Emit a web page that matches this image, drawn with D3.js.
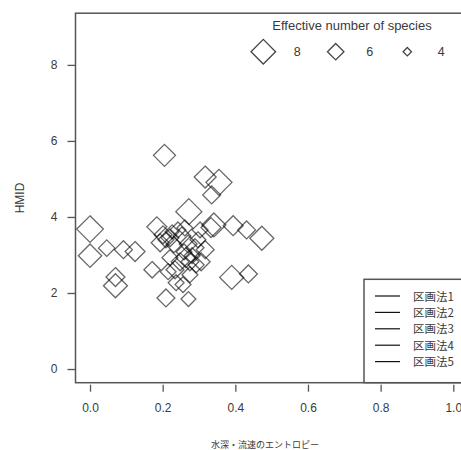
<!DOCTYPE html>
<html>
<head>
<meta charset="utf-8">
<script src="https://cdn.jsdelivr.net/npm/d3@7"></script>
<style>
  body { margin: 0; background: #fff; }
  svg { display: block; }
</style>
</head>
<body>
<div id="chart"></div>
<script>
// entropy of depth/velocity (x), HMID (y), effective number of species (size)
const entropy = [0.00, 0.00, 0.046, 0.092, 0.124, 0.070, 0.070, 0.171, 0.209, 0.205,
  0.317, 0.355, 0.335, 0.341, 0.333, 0.394, 0.431, 0.473, 0.390, 0.436,
  0.271, 0.272, 0.184, 0.201, 0.209, 0.220, 0.231, 0.226, 0.193, 0.242,
  0.253, 0.261, 0.270, 0.259, 0.264, 0.275, 0.281, 0.289, 0.297, 0.292,
  0.248, 0.220, 0.303, 0.317, 0.234, 0.275, 0.256, 0.237, 0.306, 0.215];
const hmid = [3.68, 2.98, 3.18, 3.14, 3.09, 2.42, 2.19, 2.61, 1.87, 5.62,
  5.05, 4.91, 4.58, 3.79, 3.72, 3.77, 3.66, 3.44, 2.41, 2.50,
  1.84, 4.14, 3.74, 3.53, 3.40, 3.45, 3.27, 3.61, 3.32, 3.66,
  3.50, 3.71, 3.29, 3.08, 2.93, 2.82, 2.98, 3.19, 3.40, 2.74,
  2.82, 2.93, 3.66, 3.14, 2.61, 2.48, 2.22, 2.27, 2.82, 2.56];
const species = [8.5, 7.7, 6.0, 6.35, 6.85, 6.6, 7.85, 6.0, 6.35, 7.35,
  7.35, 8.35, 6.35, 7.85, 6.85, 6.85, 6.35, 7.85, 7.85, 6.35,
  5.6, 8.35, 6.85, 6.35, 5.85, 6.35, 5.85, 5.35, 6.35, 5.85,
  6.35, 5.85, 6.35, 5.85, 6.85, 6.35, 5.85, 6.35, 5.85, 5.85,
  6.35, 5.85, 5.85, 6.35, 6.35, 5.85, 5.85, 5.85, 6.35, 5.85];

const xTicks = [0, 0.2, 0.4, 0.6, 0.8, 1.0];
const yTicks = [0, 2, 4, 6, 8];
const sizeLegend = [8, 6, 4];
const methods = ["区画法1", "区画法2", "区画法3", "区画法4", "区画法5"];

const W = 461, H = 450;
const font = "'Liberation Sans', Arial, sans-serif";
const cjk = "'Noto Sans CJK JP', sans-serif";
const boxCol = "#555";
const textCol = "#3a3a3a";

const svg = d3.select("#chart").append("svg")
    .attr("width", W).attr("height", H)
    .style("font-family", font);

// R style: 4% padding on both axes
const x = d3.scaleLinear().domain([-0.04, 1.04]).range([75.5, 467.8]);
const y = d3.scaleLinear().domain([-0.36, 9.36]).range([382.7, 13.2]);
const half = d3.scaleLinear().domain([4, 8]).range([4.2, 12.3]);

const diamond = (cx, cy, h) => `M${cx},${cy - h}L${cx + h},${cy}L${cx},${cy + h}L${cx - h},${cy}Z`;

// plot box
svg.append("rect")
    .attr("x", x.range()[0]).attr("y", y.range()[1])
    .attr("width", x.range()[1] - x.range()[0])
    .attr("height", y.range()[0] - y.range()[1])
    .attr("fill", "none").attr("stroke", boxCol).attr("stroke-width", 1.5);

// points
const pts = entropy.map((d, i) => ({x: d, y: hmid[i], n: species[i]}));
svg.append("g").selectAll("path")
    .data(pts)
    .join("path")
    .attr("d", d => diamond(x(d.x), y(d.y), half(d.n)))
    .attr("fill", "none")
    .attr("stroke", "#000")
    .attr("stroke-opacity", 0.6)
    .attr("stroke-width", 1.3);

// x axis (ticks below box)
const xa = svg.append("g").attr("transform", `translate(0,${y.range()[0] + 2})`)
    .call(d3.axisBottom(x).tickValues(xTicks).tickFormat(d3.format(".1f")).tickSize(7).tickPadding(12));
xa.select(".domain").remove();
xa.selectAll("line").attr("stroke", boxCol).attr("stroke-width", 1.3);
xa.selectAll("text").attr("font-size", 12).attr("fill", textCol).attr("font-family", font);

// y axis
const ya = svg.append("g").attr("transform", `translate(${x.range()[0]},0)`)
    .call(d3.axisLeft(y).tickValues(yTicks).tickSize(8).tickPadding(10));
ya.select(".domain").remove();
ya.selectAll("line").attr("stroke", boxCol).attr("stroke-width", 1.3);
ya.selectAll("text").attr("font-size", 12).attr("fill", textCol).attr("font-family", font);

// axis titles
svg.append("text")
    .attr("x", 265).attr("y", 448)
    .attr("text-anchor", "middle")
    .attr("font-family", cjk).attr("font-size", 9).attr("fill", textCol)
    .text("水深・流速のエントロピー");
svg.append("text")
    .attr("transform", `translate(24,198) rotate(-90)`)
    .attr("text-anchor", "middle")
    .attr("font-size", 12).attr("fill", textCol)
    .text("HMID");

// size legend
svg.append("text")
    .attr("x", 352).attr("y", 30)
    .attr("text-anchor", "middle")
    .attr("font-size", 13).attr("fill", textCol)
    .text("Effective number of species");
const legX = [263.3, 335.7, 407.3];
const sl = svg.append("g").selectAll("g").data(sizeLegend).join("g")
    .attr("transform", (d, i) => `translate(${legX[i]},51.7)`);
sl.append("path")
    .attr("d", d => diamond(0, 0, half(d)))
    .attr("fill", "none").attr("stroke", "#444").attr("stroke-width", 1.3);
sl.append("text")
    .attr("x", 34).attr("y", 4.5)
    .attr("text-anchor", "middle")
    .attr("font-size", 12.5).attr("fill", textCol)
    .text(d => d);

// method legend
const lg = svg.append("g");
lg.append("rect")
    .attr("x", 364).attr("y", 279.3)
    .attr("width", 120).attr("height", y.range()[0] - 279.3)
    .attr("fill", "#fff").attr("stroke", boxCol).attr("stroke-width", 1.5);
const rows = lg.selectAll("g.row").data(methods).join("g")
    .attr("class", "row")
    .attr("transform", (d, i) => `translate(0,${296 + i * 16.4})`);
rows.append("line")
    .attr("x1", 375).attr("x2", 400)
    .attr("stroke", "#111").attr("stroke-width", 1.2);
rows.append("text")
    .attr("x", 413).attr("y", 4.5)
    .attr("font-family", cjk).attr("font-size", 11.5).attr("fill", textCol)
    .text(d => d);
</script>
</body>
</html>
